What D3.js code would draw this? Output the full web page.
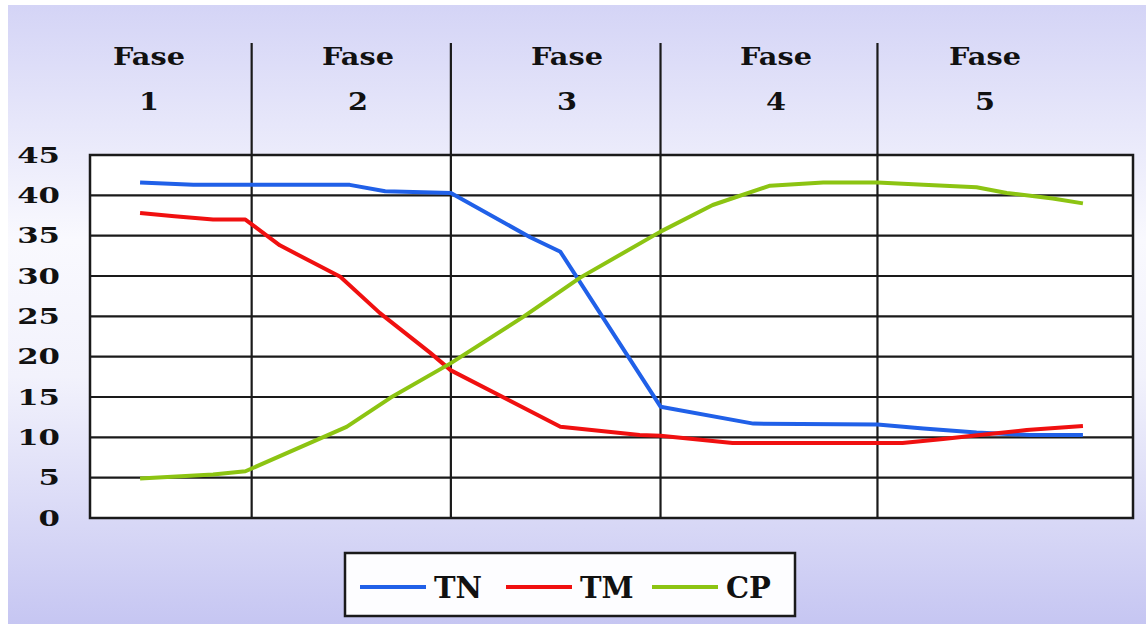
<!DOCTYPE html>
<html>
<head>
<meta charset="utf-8">
<script src="https://d3js.org/d3.v7.min.js"></script>
<style>
  html, body { margin: 0; padding: 0; background: #fff; }
  svg { display: block; }
</style>
</head>
<body>
<div id="chart"></div>
<script>
// time runs 0..100 across the plot; phases end at these points
const phaseNames = ["1", "2", "3", "4", "5"];
const phaseBounds = [15.5, 34.6, 54.7, 75.5];
const yTicks = [0, 5, 10, 15, 20, 25, 30, 35, 40, 45];
const seriesNames = ["TN", "TM", "CP"];

const tnT = [4.8, 9.9, 24.9, 28.3, 34.6, 42.2, 45.1, 54.7, 63.6, 75.5, 79.9, 85.0, 90.1, 95.2];
const tnV = [41.6, 41.3, 41.3, 40.5, 40.3, 34.8, 33.0, 13.8, 11.7, 11.6, 11.1, 10.6, 10.3, 10.3];

const tmT = [4.8, 8.1, 11.8, 14.9, 18.2, 24.0, 27.8, 32.6, 34.6, 45.1, 52.7, 54.7, 61.6, 77.9, 81.8, 85.3, 89.8, 95.2];
const tmV = [37.8, 37.4, 37.0, 37.0, 33.8, 29.9, 25.4, 20.5, 18.3, 11.3, 10.3, 10.2, 9.3, 9.3, 9.8, 10.3, 10.9, 11.4];

const cpT = [4.8, 11.8, 14.9, 24.6, 28.8, 34.6, 41.5, 47.0, 54.7, 59.7, 65.2, 70.3, 75.5, 79.9, 85.0, 87.9, 92.3, 95.2];
const cpV = [4.9, 5.4, 5.8, 11.3, 14.9, 19.2, 24.9, 29.8, 35.5, 38.8, 41.2, 41.6, 41.6, 41.3, 41.0, 40.3, 39.6, 39.0];

const W = 1146, H = 624;
const margin = {top: 155, right: 13, bottom: 106, left: 90},
    width = W - margin.left - margin.right,
    height = H - margin.top - margin.bottom;

const svg = d3.select("#chart")
    .append("svg")
    .attr("width", W)
    .attr("height", H);

const grad = svg.append("defs").append("linearGradient")
    .attr("id", "bg").attr("x1", 0).attr("y1", 0).attr("x2", 0).attr("y2", 1);
grad.append("stop").attr("offset", "0").attr("stop-color", "#d4d4f6");
grad.append("stop").attr("offset", "0.38").attr("stop-color", "#f9f9fe");
grad.append("stop").attr("offset", "0.6").attr("stop-color", "#f2f2fc");
grad.append("stop").attr("offset", "1").attr("stop-color", "#c6c6f2");

svg.append("rect").attr("x", 8).attr("y", 5).attr("width", W - 8).attr("height", H - 5)
    .attr("fill", "url(#bg)");

const g = svg.append("g")
    .attr("transform", "translate(" + margin.left + "," + margin.top + ")");

const x = d3.scaleLinear().domain([0, 100]).range([0, width]);
const y = d3.scaleLinear().domain([0, 45]).range([height, 0]);

g.append("rect").attr("width", width).attr("height", height).attr("fill", "#fff");

// horizontal grid
g.selectAll(".grid")
    .data(yTicks)
    .enter()
    .append("line")
    .attr("x1", 0).attr("x2", width)
    .attr("y1", (d) => y(d)).attr("y2", (d) => y(d))
    .attr("stroke", "#1a1a1a").attr("stroke-width", 2.2);

// y axis labels (the original font is wide, so stretch a little)
const yAxis = g.append("g")
    .call(d3.axisLeft(y).tickValues(yTicks).tickSize(0));
yAxis.select(".domain").remove();
yAxis.selectAll("text")
    .attr("x", 0)
    .attr("transform", "translate(-30,0) scale(1.4,1)")
    .attr("font-family", "DejaVu Serif")
    .attr("font-weight", "bold")
    .attr("font-size", 22)
    .attr("fill", "#111");

// phase dividers
g.selectAll(".phase")
    .data(phaseBounds)
    .enter()
    .append("line")
    .attr("x1", (d) => x(d)).attr("x2", (d) => x(d))
    .attr("y1", 43 - margin.top).attr("y2", height + 1)
    .attr("stroke", "#1a1a1a").attr("stroke-width", 2.2);

// phase headers
const px = d3.scalePoint().domain(phaseNames).range([149 - margin.left, 985 - margin.left]);
const head = g.selectAll(".head")
    .data(phaseNames)
    .enter()
    .append("text")
    .attr("transform", (d) => "translate(" + px(d) + ",0) scale(1.15,1)")
    .attr("text-anchor", "middle")
    .attr("font-family", "DejaVu Serif")
    .attr("font-weight", "bold")
    .attr("font-size", 25)
    .attr("fill", "#111");
head.append("tspan").attr("x", 0).attr("y", 65 - margin.top).text("Fase");
head.append("tspan").attr("x", 0).attr("y", 110 - margin.top).text((d) => d);

g.append("rect").attr("width", width).attr("height", height)
    .attr("fill", "none").attr("stroke", "#1a1a1a").attr("stroke-width", 2.5);

const colors = {TN: "#2060e8", TM: "#f01010", CP: "#8cc412"};
const series = [
    {name: "TN", t: tnT, v: tnV},
    {name: "TM", t: tmT, v: tmV},
    {name: "CP", t: cpT, v: cpV}
];

const line = d3.line().x((d) => x(d[0])).y((d) => y(d[1]));

g.selectAll(".series")
    .data(series)
    .enter()
    .append("path")
    .attr("d", (s) => line(s.t.map((t, i) => [t, s.v[i]])))
    .attr("fill", "none")
    .attr("stroke", (s) => colors[s.name])
    .attr("stroke-width", 4)
    .attr("stroke-linejoin", "round");

// legend
const leg = svg.append("g").attr("transform", "translate(345,553)");
leg.append("rect").attr("width", 450).attr("height", 63)
    .attr("fill", "#fdfdff").attr("stroke", "#1a1a1a").attr("stroke-width", 2.5);
const lx = d3.scalePoint().domain(seriesNames).range([15, 307]);
const item = leg.selectAll(".item")
    .data(seriesNames)
    .enter()
    .append("g")
    .attr("transform", (d) => "translate(" + lx(d) + ",34)");
item.append("line").attr("x1", 0).attr("x2", 66)
    .attr("stroke", (d) => colors[d]).attr("stroke-width", 4);
item.append("text").attr("x", 74).attr("y", 11)
    .attr("font-family", "DejaVu Serif")
    .attr("font-weight", "bold")
    .attr("font-size", 29)
    .attr("fill", "#111")
    .text((d) => d);
</script>
</body>
</html>
